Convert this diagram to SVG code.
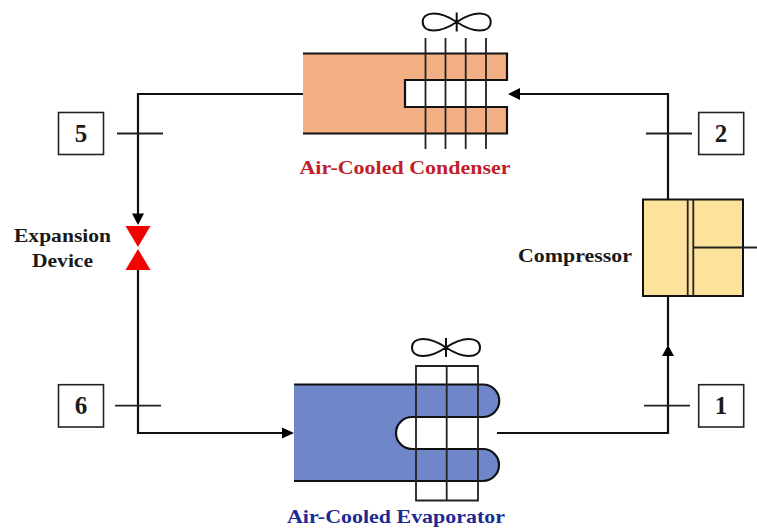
<svg xmlns="http://www.w3.org/2000/svg" width="757" height="529" viewBox="0 0 757 529">
<defs>
<path id="fan" d="M0 0C-9 -6 -16 -8.500 -23 -8.500C-30 -8.500 -34 -5 -34 0C-34 5 -30 8.500 -23 8.500C-16 8.500 -9 6 0 0C9 -6 16 -8.500 23 -8.500C30 -8.500 34 -5 34 0C34 5 30 8.500 23 8.500C16 8.500 9 6 0 0ZM0 -9.500V9.500"/>
</defs>
<style>
.l{fill:none;stroke:#111;stroke-width:2.2}
.t{fill:none;stroke:#222;stroke-width:1.8}
.s{stroke:#111;stroke-width:2.2;stroke-linejoin:miter}
.b{fill:#fff;stroke:#222;stroke-width:1.6}
.n{font:bold 25px "Liberation Serif",serif;fill:#1a1a1a;text-anchor:middle}
.c{font:bold 19px "Liberation Serif",serif;fill:#1a1a1a}
.h{fill:#000}
.f{fill:none;stroke:#111;stroke-width:2}
</style>
<rect width="757" height="529" fill="#fff"/>
<g id="connectors">
<path class="l" d="M303 94H138V216"/>
<path class="l" d="M138 270V433H286"/>
<path class="l" d="M497 433H668V355"/>
<path class="l" d="M668 199V94H518"/>
<path class="t" d="M117 133.500H163M646 133.500H692M115 405.700H161M644 405.700H690"/>
<path class="h" d="M508 94L520 88V100Z"/>
<path class="h" d="M138 225L132 213.500H144Z"/>
<path class="h" d="M294 433L282 427.500V438.500Z"/>
<path class="h" d="M668 345L662 356H674Z"/>
<path class="l" d="M668 296V346"/>
</g>
<g id="condenser">
<path class="s" fill="#f2b084" d="M303 53.500H507V80H405V107H507V133.500H303"/>
<path class="t" d="M425.500 38V149M445.500 38V149M465.700 38V149M486 38V149"/>
<use href="#fan" class="f" x="456.700" y="22"/>
<text x="405" y="173.500" text-anchor="middle" font-family="Liberation Serif, serif" font-weight="bold" font-size="19.500" fill="#c01f2a" textLength="211" lengthAdjust="spacingAndGlyphs">Air-Cooled Condenser</text>
</g>
<g id="evaporator">
<path class="s" fill="#6f87c9" d="M294 384.500H483A16 16 0 0 1 483 417H412A16 16 0 0 0 412 449H483A16 16 0 0 1 483 481H294"/>
<path class="t" d="M416 366H478V500.500H416ZM446.700 366V500.500"/>
<use href="#fan" class="f" x="446" y="347.500"/>
<text x="396" y="522.700" text-anchor="middle" font-family="Liberation Serif, serif" font-weight="bold" font-size="19.500" fill="#1c2a94" textLength="218" lengthAdjust="spacingAndGlyphs">Air-Cooled Evaporator</text>
</g>
<g id="compressor">
<rect x="643" y="199.500" width="100" height="96.500" fill="#fde29b" stroke="#111" stroke-width="2"/>
<path class="t" d="M687.700 199.500V296M693.300 199.500V296M693.300 247.500H757"/>
<text class="c" x="518" y="262" textLength="114" lengthAdjust="spacingAndGlyphs">Compressor</text>
</g>
<g id="expansion-device">
<path fill="#f00400" d="M125.500 226H150.500L138 247ZM138 249L150.500 270H125.500Z"/>
<text class="c" x="14" y="242" textLength="97" lengthAdjust="spacingAndGlyphs">Expansion</text>
<text class="c" x="32" y="266.500" textLength="61" lengthAdjust="spacingAndGlyphs">Device</text>
</g>
<g id="state-5"><rect class="b" x="58.500" y="112.500" width="45" height="42"/><text class="n" x="81" y="142">5</text></g>
<g id="state-2"><rect class="b" x="698.700" y="112.500" width="45" height="42"/><text class="n" x="721" y="142">2</text></g>
<g id="state-6"><rect class="b" x="58.500" y="384.700" width="45" height="42.300"/><text class="n" x="81" y="414">6</text></g>
<g id="state-1"><rect class="b" x="698.700" y="384.700" width="45" height="42.300"/><text class="n" x="721" y="414">1</text></g>
</svg>
